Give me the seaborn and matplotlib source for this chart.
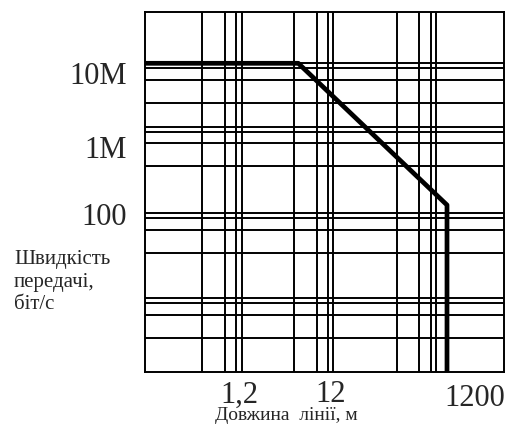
import matplotlib
matplotlib.use("Agg")
import matplotlib.pyplot as plt
import matplotlib.transforms as mtransforms
import seaborn as sns

# grid positions, in pixels from the top-left corner of the plot box
grid_x = [56.7, 79.5, 91.3, 96.7,
          149.0, 171.7, 183.3, 188.3,
          251.7, 274.3, 286.5, 291.5]
grid_y = [51.6, 56.6, 68.3, 91.0,
          115.0, 120.3, 131.3, 154.3,
          200.8, 206.6, 217.8, 240.8,
          286.3, 291.6, 303.3, 326.3]

# speed curve
curve_x = [0.0, 153.3, 302.0, 302.0]
curve_y = [51.6, 51.6, 193.3, 360.0]

# axis labels
y_labels = ["10M", "1M", "100"]
y_label_pos = [61.0, 135.0, 202.3]
x_labels = ["1,2", "12", "1200"]
x_label_pos = [94.0, 186.0, 330.0]
x_label_drop = [0.0, 0.0, 4.0]

W, H = 507, 425
box = (145, 11.7, 504.3, 371.7)  # left, top, right, bottom in px

sns.set_style("white")
plt.rcParams["font.family"] = ["Liberation Serif", "DejaVu Serif"]

fig = plt.figure(figsize=(W / 100, H / 100), dpi=100)
ax = fig.add_axes([box[0] / W, 1 - box[3] / H,
                   (box[2] - box[0]) / W, (box[3] - box[1]) / H])
ax.set_xlim(0, box[2] - box[0])
ax.set_ylim(box[3] - box[1], 0)

for gx in grid_x:
    ax.axvline(gx, color="black", lw=1.4, zorder=1)
for gy in grid_y:
    ax.axhline(gy, color="black", lw=1.4, zorder=1)

sns.lineplot(x=curve_x, y=curve_y, sort=False, estimator=None,
             color="black", lw=3.4, ax=ax, zorder=3)

for s in ax.spines.values():
    s.set_color("black")
    s.set_linewidth(1.4)

ax.set_yticks(y_label_pos)
ax.set_yticklabels(y_labels, fontsize=22)
ax.set_xticks([])
ax.tick_params(axis="y", length=0, pad=13)

trans = mtransforms.blended_transform_factory(ax.transData, ax.transAxes)
for lab, xp, dy in zip(x_labels, x_label_pos, x_label_drop):
    ax.text(xp, -0.024 - dy / 360, lab, transform=trans, fontsize=22,
            ha="center", va="top")

fig.text(286 / W, 1 - 415.5 / H, "Довжина  лінії, м", fontsize=14,
         ha="center", va="center")
fig.text(14 / W, 1 - 250 / H, "Швидкість\nпередачі,\nбіт/с", fontsize=15,
         ha="left", va="top", linespacing=1.25)

fig.savefig("out.png", dpi=100)
